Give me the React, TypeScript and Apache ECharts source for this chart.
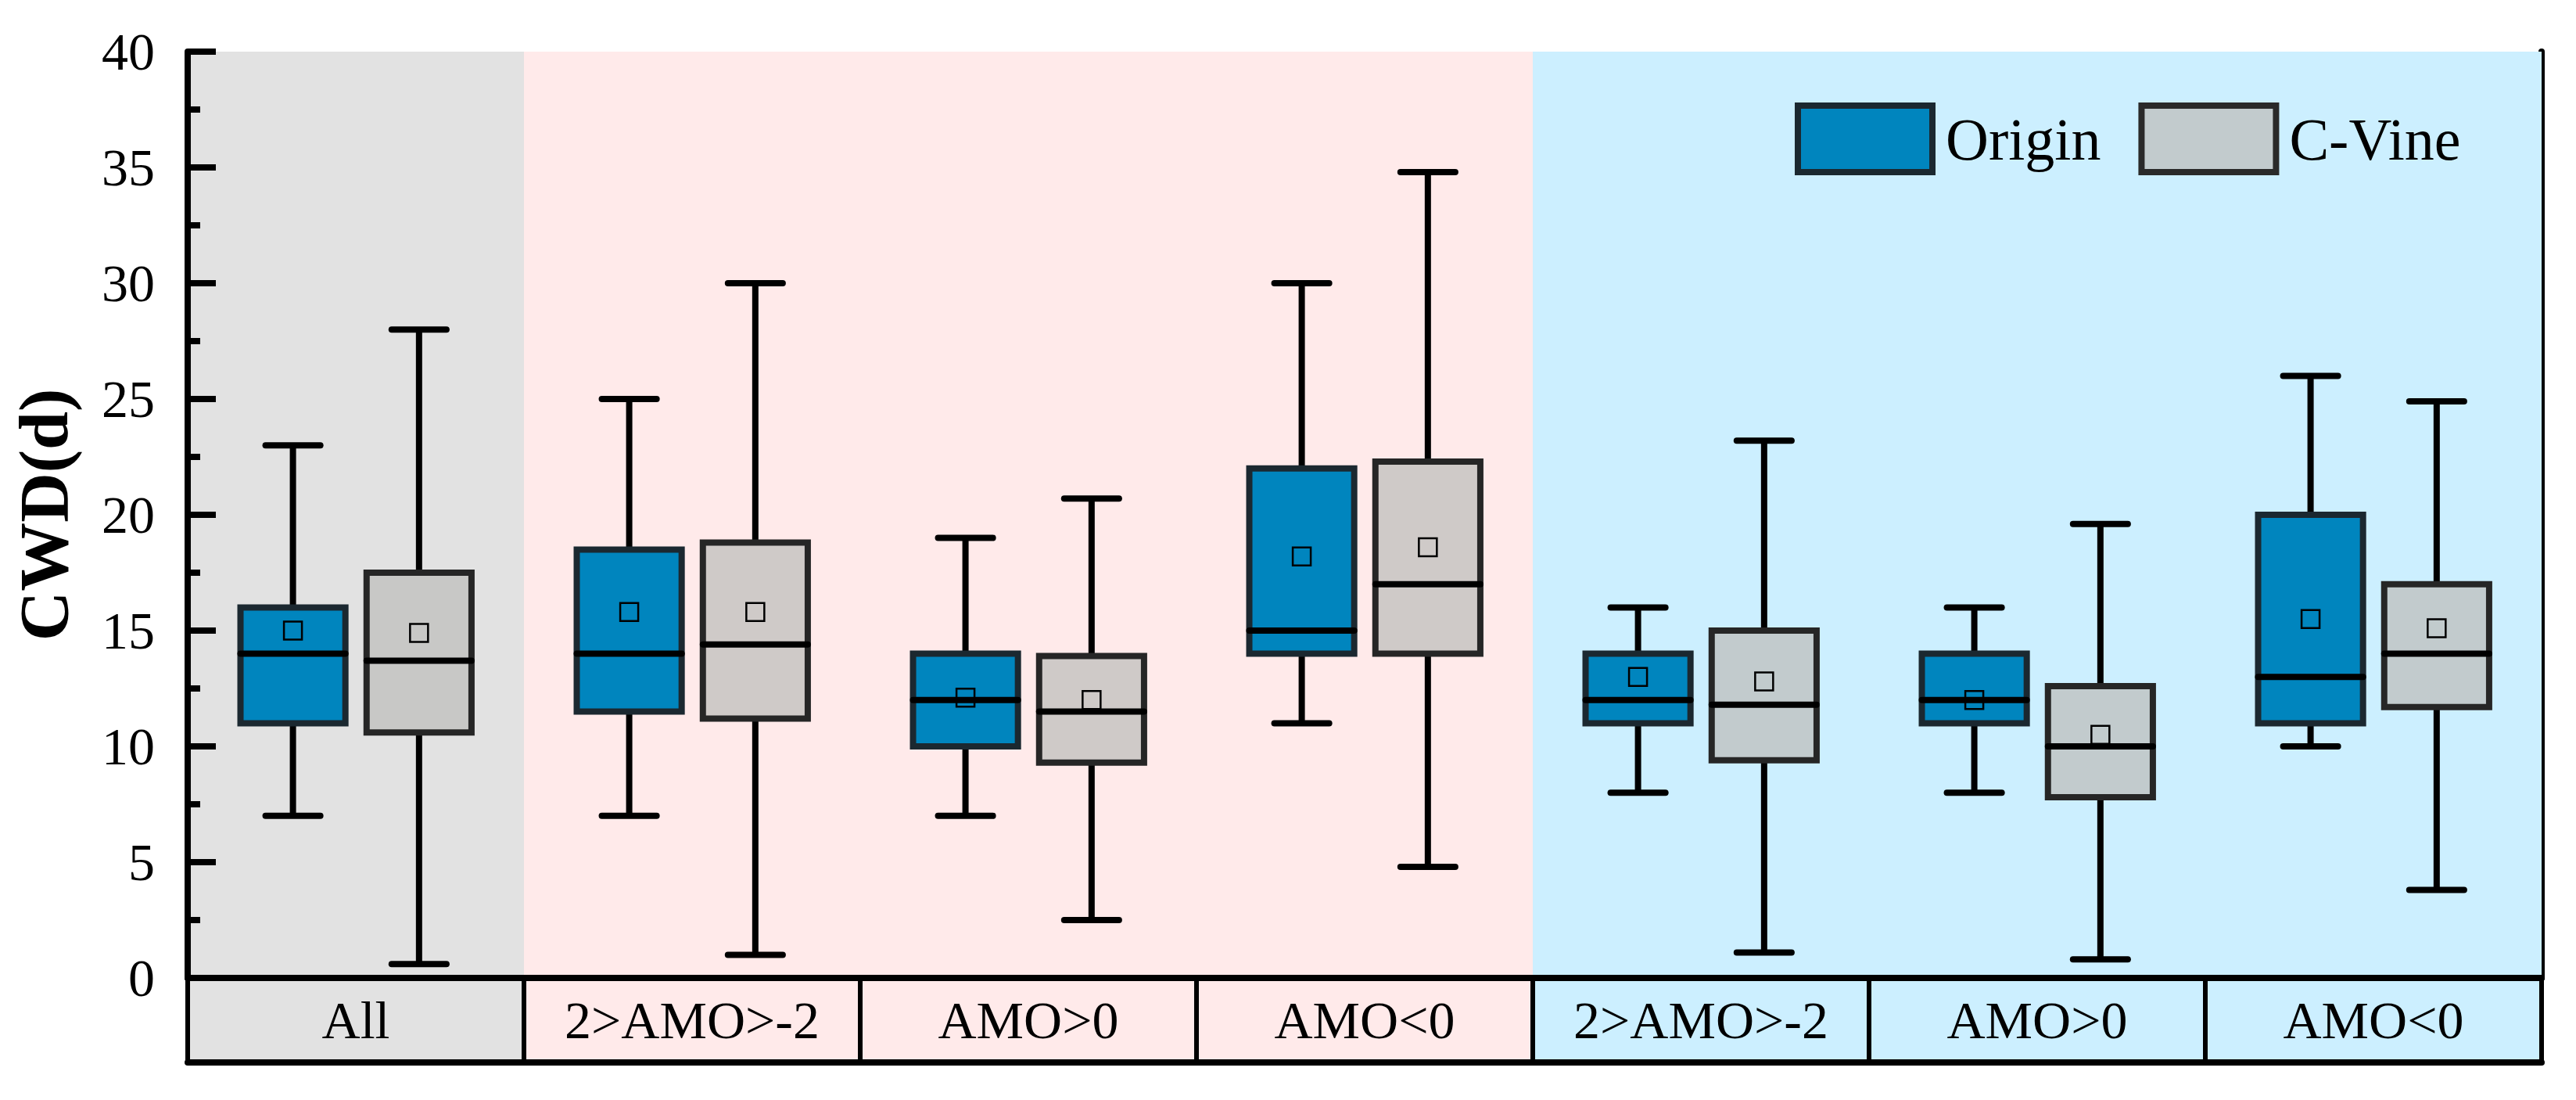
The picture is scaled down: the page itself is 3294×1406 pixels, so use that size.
import React, { useEffect, useRef } from 'react';
import * as echarts from 'echarts';

const categories = ['All', '2>AMO>-2', 'AMO>0', 'AMO<0', '2>AMO>-2', 'AMO>0', 'AMO<0'];
const groupColors = ['#e2e2e2', '#ffeaea', '#ffeaea', '#ffeaea', '#ccefff', '#ccefff', '#ccefff'];

const originMin = [7, 7, 7, 11, 8, 8, 10];
const originQ1 = [11, 11.5, 10, 14, 11, 11, 11];
const originMed = [14, 14, 12, 15, 12, 12, 13];
const originQ3 = [16, 18.5, 14, 22, 14, 14, 20];
const originMax = [23, 25, 19, 30, 16, 16, 26];
const originMean = [15.0, 15.8, 12.1, 18.2, 13.0, 12.0, 15.5];

const cvMin = [0.6, 1.0, 2.5, 4.8, 1.1, 0.8, 3.8];
const cvQ1 = [10.6, 11.2, 9.3, 14.0, 9.4, 7.8, 11.7];
const cvMed = [13.7, 14.4, 11.5, 17.0, 11.8, 10.0, 14.0];
const cvQ3 = [17.5, 18.8, 13.9, 22.3, 15.0, 12.6, 17.0];
const cvMax = [28.0, 30.0, 20.7, 34.8, 23.2, 19.6, 24.9];
const cvMean = [14.9, 15.8, 12.0, 18.6, 12.8, 10.5, 15.1];

const FONT = 'Liberation Serif';
const ORIGIN_FILL = '#0085be';
const CV_FILL = 'rgba(190,190,188,0.74)';

export default function App() {
  const ref = useRef<HTMLDivElement>(null);

  useEffect(() => {
    const chart = echarts.init(ref.current as HTMLDivElement, null, { renderer: 'svg' });

    const makeData = (mn: number[], q1: number[], md: number[], q3: number[], mx: number[], mean: number[]) =>
      categories.map((_, i) => [i, mn[i], q1[i], md[i], q3[i], mx[i], mean[i]]);

    const renderBox = (offsetFrac: number, fill: string, stroke: string) => (params: any, api: any) => {
      const idx = api.value(0);
      const band = api.size([1, 0])[0];
      const cx = api.coord([idx, 0])[0] + offsetFrac * band;
      const y = (v: number) => api.coord([idx, v])[1];
      const bw = band * 0.312;
      const cw = band * 0.163;
      const yMin = y(api.value(1));
      const yQ1 = y(api.value(2));
      const yMed = y(api.value(3));
      const yQ3 = y(api.value(4));
      const yMax = y(api.value(5));
      const yMean = y(api.value(6));
      const wStyle = { stroke: '#000', lineWidth: 8 };
      const capStyle = { stroke: '#000', lineWidth: 8, lineCap: 'round' };
      return {
        type: 'group',
        children: [
          { type: 'line', shape: { x1: cx, y1: yMax, x2: cx, y2: yQ3 }, style: wStyle },
          { type: 'line', shape: { x1: cx, y1: yQ1, x2: cx, y2: yMin }, style: wStyle },
          { type: 'line', shape: { x1: cx - cw / 2, y1: yMax, x2: cx + cw / 2, y2: yMax }, style: capStyle },
          { type: 'line', shape: { x1: cx - cw / 2, y1: yMin, x2: cx + cw / 2, y2: yMin }, style: capStyle },
          {
            type: 'rect',
            shape: { x: cx - bw / 2, y: yQ3, width: bw, height: yQ1 - yQ3 },
            style: { fill, stroke, lineWidth: 8 },
          },
          {
            type: 'line',
            shape: { x1: cx - bw / 2, y1: yMed, x2: cx + bw / 2, y2: yMed },
            style: { stroke: '#000', lineWidth: 8, lineCap: 'round' },
          },
          {
            type: 'rect',
            shape: { x: cx - 11.5, y: yMean - 11.5, width: 23, height: 23 },
            style: { fill: 'none', stroke: '#000', lineWidth: 2.5 },
          },
        ],
      };
    };

    const rich: Record<string, any> = {};
    groupColors.forEach((c, i) => {
      rich['c' + i] = {
        backgroundColor: c,
        width: 424,
        height: 100,
        lineHeight: 100,
        align: 'center',
        fontFamily: FONT,
        fontSize: 68,
        color: '#000',
      };
    });

    const option: any = {
      animation: false,
      backgroundColor: '#ffffff',
      grid: { left: 240, right: 44, top: 66, bottom: 156, containLabel: false },
      legend: {
        left: 2290,
        top: 126,
        itemWidth: 172,
        itemHeight: 85,
        itemGap: 48,
        icon: 'rect',
        selectedMode: false,
        textStyle: { fontFamily: FONT, fontSize: 76, color: '#000', padding: [0, 0, 0, 12] },
        data: [
          { name: 'Origin', itemStyle: { color: ORIGIN_FILL, borderColor: '#1b2830', borderWidth: 8 } },
          { name: 'C-Vine', itemStyle: { color: CV_FILL, borderColor: '#2a2a2a', borderWidth: 8 } },
        ],
      },
      xAxis: [
        {
          type: 'category',
          data: categories,
          position: 'bottom',
          boundaryGap: true,
          axisLine: { show: true, lineStyle: { color: '#000', width: 8 } },
          axisTick: { show: true, length: 108, interval: 0, lineStyle: { color: '#000', width: 6 } },
          axisLabel: {
            show: true,
            interval: 0,
            margin: 4,
            formatter: (v: string, i: number) => '{c' + i + '|' + v + '}',
            rich,
          },
          splitArea: { show: true, interval: 0, areaStyle: { color: groupColors } },
          splitLine: { show: false },
          z: 3,
        },
        {
          type: 'category',
          data: categories,
          position: 'top',
          axisLine: { show: true, lineStyle: { color: '#000', width: 8 } },
          axisTick: { show: false },
          axisLabel: { show: false },
          splitLine: { show: false },
        },
        {
          type: 'category',
          data: categories,
          position: 'bottom',
          offset: 108,
          axisLine: { show: true, lineStyle: { color: '#000', width: 8 } },
          axisTick: { show: false },
          axisLabel: { show: false },
          splitLine: { show: false },
        },
      ],
      yAxis: [
        {
          type: 'value',
          min: 0,
          max: 40,
          interval: 5,
          position: 'left',
          name: 'CWD(d)',
          nameLocation: 'middle',
          nameRotate: 90,
          nameGap: 140,
          nameTextStyle: { fontFamily: FONT, fontSize: 88, fontWeight: 'bold', color: '#000' },
          axisLine: { show: true, lineStyle: { color: '#000', width: 8 } },
          axisTick: { show: true, inside: true, length: 36, lineStyle: { color: '#000', width: 8 } },
          minorTick: { show: true, splitNumber: 2, length: 16, lineStyle: { color: '#000', width: 8 } },
          axisLabel: { fontFamily: FONT, fontSize: 68, color: '#000', margin: 42 },
          splitLine: { show: false },
          z: 3,
        },
        {
          type: 'value',
          min: 0,
          max: 40,
          interval: 5,
          position: 'right',
          axisLine: { show: true, lineStyle: { color: '#000', width: 8 } },
          axisTick: { show: false },
          axisLabel: { show: false },
          splitLine: { show: false },
        },
      ],
      series: [
        {
          name: 'Origin',
          type: 'custom',
          xAxisIndex: 0,
          yAxisIndex: 0,
          itemStyle: { color: ORIGIN_FILL },
          encode: { x: 0, y: [1, 2, 3, 4, 5, 6] },
          renderItem: renderBox(-0.187, ORIGIN_FILL, '#1b2830'),
          data: makeData(originMin, originQ1, originMed, originQ3, originMax, originMean),
          z: 5,
        },
        {
          name: 'C-Vine',
          type: 'custom',
          xAxisIndex: 0,
          yAxisIndex: 0,
          itemStyle: { color: CV_FILL },
          encode: { x: 0, y: [1, 2, 3, 4, 5, 6] },
          renderItem: renderBox(0.188, CV_FILL, '#262626'),
          data: makeData(cvMin, cvQ1, cvMed, cvQ3, cvMax, cvMean),
          z: 5,
        },
      ],
    };

    chart.setOption(option);
    return () => {
      chart.dispose();
    };
  }, []);

  return (
    <div
      ref={ref}
      style={{ position: 'absolute', left: 0, top: 0, width: 3294, height: 1406 }}
    />
  );
}
